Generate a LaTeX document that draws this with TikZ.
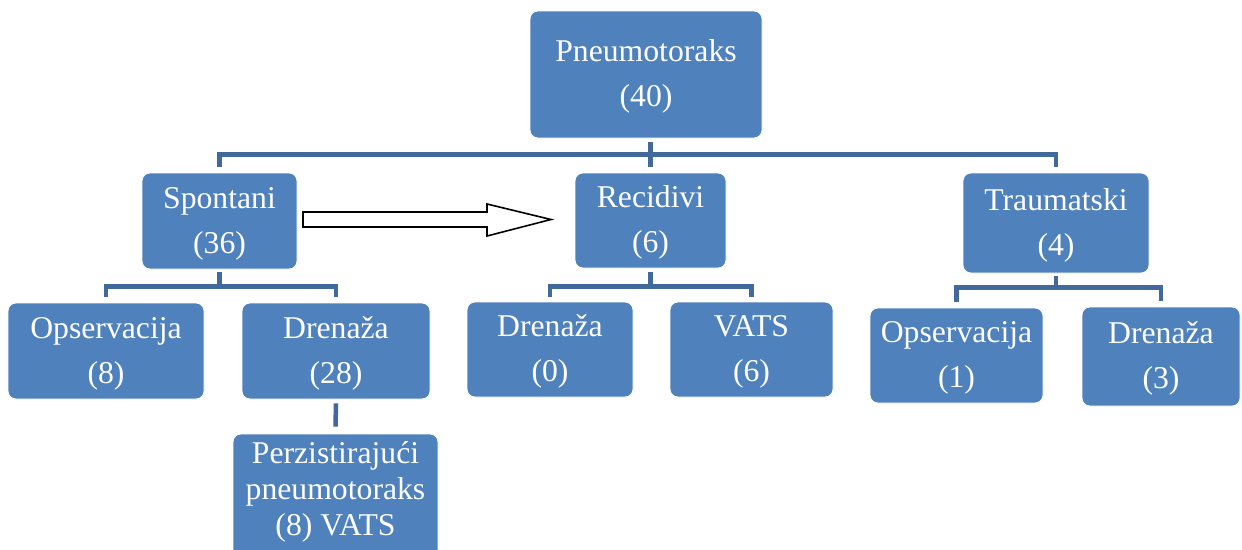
\documentclass[tikz,border=0pt]{standalone}
\usepackage{fontspec}
\setmainfont{Liberation Serif}
\definecolor{boxblue}{RGB}{79,129,189}
\definecolor{linkblue}{RGB}{65,105,155}
\newcommand\topstrut{\rule{0pt}{26pt}}
\tikzset{
  box/.style={rectangle, rounded corners=8pt, fill=boxblue, draw=white, line width=0.8pt,
    text=white, align=center, inner sep=0pt, font=\fontsize{31.7}{45}\selectfont},
  conn/.style={draw=linkblue, line width=4.5pt},
  blockarrow/.style={draw=black, fill=white, line width=1.6pt, line join=miter}
}
\begin{document}
\begin{tikzpicture}[x=1pt,y=-1pt]
\useasboundingbox (0,0) rectangle (1242,549);
\clip (0,0) rectangle (1242,549);
\node[box, minimum width=232pt, minimum height=127pt] (P) at (646,74.5) {\topstrut Pneumotoraks\\(40)};
\node[box, minimum width=155pt, minimum height=96pt] (S) at (219.5,221) {\topstrut Spontani\\(36)};
\node[box, minimum width=151pt, minimum height=95pt] (R) at (650.5,220.5) {\topstrut Recidivi\\(6)};
\node[box, minimum width=186pt, minimum height=100pt] (T) at (1056,223) {\topstrut Traumatski\\(4)};
\node[box, minimum width=196pt, minimum height=96pt] (O8) at (106,351) {\topstrut Opservacija\\(8)};
\node[box, minimum width=188pt, minimum height=96pt] (D28) at (336,351) {\topstrut Drenaža\\(28)};
\node[box, minimum width=205pt, minimum height=140pt, font=\fontsize{31.7}{36}\selectfont] (PZ) at (335.5,504) {Perzistirajući\\pneumotoraks\\(8) VATS\rule[-32pt]{0pt}{32pt}};
\node[box, minimum width=166pt, minimum height=95pt] (D0) at (550,349.5) {\topstrut Drenaža\\(0)};
\node[box, minimum width=163pt, minimum height=95pt] (V) at (751.5,349.5) {\topstrut VATS\\(6)};
\node[box, minimum width=173pt, minimum height=95pt] (O1) at (956.5,355.5) {\topstrut Opservacija\\(1)};
\node[box, minimum width=158pt, minimum height=99pt] (D3) at (1161,356.5) {\topstrut Drenaža\\(3)};
% top level bus
\draw[conn] ([yshift=6pt]S.north) |- ([yshift=18pt]R.north) -| ([yshift=6pt]T.north);
\draw[conn] ([yshift=-4pt]R.north |- P.south) -- ([yshift=6pt]R.north);
% spontani
\draw[conn] ([yshift=-3pt]S.south) -- ([yshift=-17pt]S.south);
\draw[conn] ([yshift=6pt]O8.north) |- ([yshift=-17pt]S.south) -| ([yshift=6pt]D28.north);
\draw[conn] ([yshift=-4pt]D28.south) -- ([yshift=7pt]PZ.north);
% recidivi
\draw[conn] ([yshift=-4pt]R.south) -- ([yshift=-18pt]R.south);
\draw[conn] ([yshift=5pt]D0.north) |- ([yshift=-18pt]R.south) -| ([yshift=5pt]V.north);
% traumatski
\draw[conn] ([yshift=-3pt]T.south) -- ([yshift=-14pt]T.south);
\draw[conn] ([yshift=6pt]O1.north) |- ([yshift=-14pt]T.south) -| ([yshift=6pt]D3.north);
% block arrow from Spontani towards Recidivi
\draw[blockarrow] (303,212) -- (487,212) -- (487,204) -- (551,219.5) -- (487,236) -- (487,227) -- (303,227) -- cycle;
\end{tikzpicture}
\end{document}
